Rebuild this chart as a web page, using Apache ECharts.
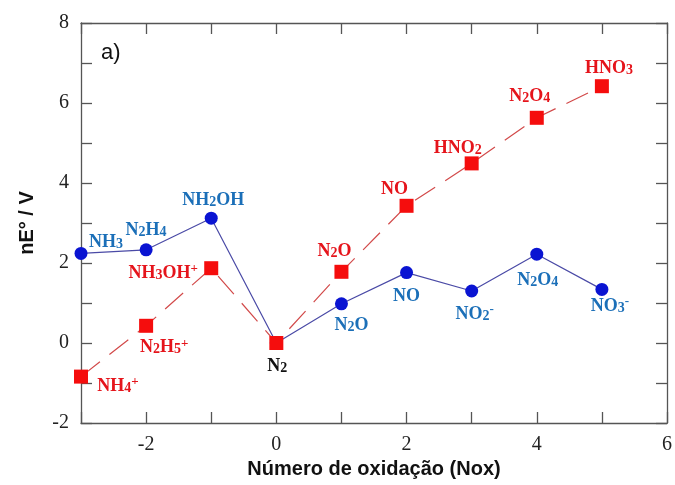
<!DOCTYPE html>
<html><head><meta charset="utf-8">
<script src="https://cdn.jsdelivr.net/npm/echarts@6/dist/echarts.min.js"></script>
<style>html,body{margin:0;padding:0;background:#fff}#c{width:675px;height:485px}</style>
</head><body><div id="c"></div>
<script>
// Data
const nox = [-3, -2, -1, 0, 1, 2, 3, 4, 5];
const blueValues = [2.24, 2.33, 3.12, 0, 0.98, 1.76, 1.30, 2.22, 1.34];
const redValues = [-0.84, 0.43, 1.87, 0, 1.78, 3.43, 4.49, 5.63, 6.42];
const blueLabels = ['{m|NH}{s|3}', '{m|N}{s|2}{m|H}{s|4}', '{m|NH}{s|2}{m|OH}', '', '{m|N}{s|2}{m|O}', '{m|NO}', '{m|NO}{s|2}{p|-}', '{m|N}{s|2}{m|O}{s|4}', '{m|NO}{s|3}{p|-}'];
const redLabels = ['{m|NH}{s|4}{p|+}', '{m|N}{s|2}{m|H}{s|5}{p|+}', '{m|NH}{s|3}{m|OH}{p|+}', '{m|N}{s|2}', '{m|N}{s|2}{m|O}', '{m|NO}', '{m|HNO}{s|2}', '{m|N}{s|2}{m|O}{s|4}', '{m|HNO}{s|3}'];
const yTicks = [-2, 0, 2, 4, 6, 8];
const xTicks = [-2, 0, 2, 4, 6];

// Label placement (pixel offsets from each marker)
const blueOffsets = [[25, -12], [0, -20], [2, -19], [0, 0], [10, 21], [0, 23], [3, 22], [1, 25], [8, 16]];
const redOffsets = [[37, 9], [18, 21], [-48, 4], [1, 22], [-7, -21], [-12, -17], [-14, -16], [-7, -22], [7, -19]];

const BLUE_TXT = '#1b6fb8', RED_TXT = '#e5141b';
function rich(color) {
  return {
    m: {fontFamily: 'Liberation Serif', fontWeight: 'bold', fontSize: 18, color: color, lineHeight: 20, verticalAlign: 'bottom'},
    s: {fontFamily: 'Liberation Serif', fontWeight: 'bold', fontSize: 14, color: color, lineHeight: 17, verticalAlign: 'bottom'},
    p: {fontFamily: 'Liberation Serif', fontWeight: 'bold', fontSize: 13, color: color, lineHeight: 13, verticalAlign: 'top'}
  };
}
function build(values, labels, offsets, color) {
  return nox.map((x, i) => {
    const lbl = labels[i];
    const c = (color === RED_TXT && x === 0) ? '#111' : color;
    return {
      value: [x, values[i]],
      label: {show: lbl !== '', formatter: lbl, position: 'inside', offset: offsets[i], align: 'center', verticalAlign: 'middle', rich: rich(c)}
    };
  });
}
const labFmt = (arr) => (v) => arr.indexOf(v) >= 0 ? String(v) : '';
const axisLine = {show: true, onZero: false, lineStyle: {color: '#555', width: 1.3}};
const tick = {show: true, inside: true, length: 11, lineStyle: {color: '#555', width: 1.3}};

const chart = echarts.init(document.getElementById('c'), null, {renderer: 'canvas'});
chart.setOption({
  animation: false,
  title: {text: 'a)', left: 96, top: 37, textStyle: {fontFamily: 'Liberation Sans', fontWeight: 'normal', fontSize: 22, color: '#111'}},
  grid: {left: 81, right: 8, top: 23, bottom: 62},
  xAxis: [
    {type: 'value', min: -3, max: 6, interval: 1, position: 'bottom',
     name: 'Número de oxidação (Nox)', nameLocation: 'middle', nameGap: 34,
     nameTextStyle: {fontFamily: 'Liberation Sans', fontWeight: 'bold', fontSize: 20, color: '#111'},
     axisLine: axisLine, axisTick: tick, splitLine: {show: false},
     axisLabel: {formatter: labFmt(xTicks), fontFamily: 'Liberation Serif', fontSize: 20, color: '#222', margin: 12}},
    {type: 'value', min: -3, max: 6, interval: 1, position: 'top',
     axisLine: axisLine, axisTick: tick, splitLine: {show: false}, axisLabel: {show: false}}
  ],
  yAxis: [
    {type: 'value', min: -2, max: 8, interval: 1, position: 'left',
     name: 'nE° / V', nameLocation: 'middle', nameGap: 44, nameRotate: 90,
     nameTextStyle: {fontFamily: 'Liberation Sans', fontWeight: 'bold', fontSize: 20, color: '#111'},
     axisLine: axisLine, axisTick: tick, splitLine: {show: false},
     axisLabel: {formatter: labFmt(yTicks), fontFamily: 'Liberation Serif', fontSize: 20, color: '#222', margin: 12}},
    {type: 'value', min: -2, max: 8, interval: 1, position: 'right',
     axisLine: axisLine, axisTick: tick, splitLine: {show: false}, axisLabel: {show: false}}
  ],
  series: [
    {type: 'line', name: 'blue', xAxisIndex: 0, yAxisIndex: 0,
     data: build(blueValues, blueLabels, blueOffsets, BLUE_TXT),
     symbol: 'circle', symbolSize: 13, itemStyle: {color: '#0a14d2'},
     lineStyle: {color: '#4a4aa6', width: 1.2}, z: 2},
    {type: 'line', name: 'red', xAxisIndex: 0, yAxisIndex: 0,
     data: build(redValues, redLabels, redOffsets, RED_TXT),
     symbol: 'rect', symbolSize: 14, itemStyle: {color: '#f50d0d'},
     lineStyle: {color: '#d24a4a', width: 1.2, type: [24, 12]}, z: 3}
  ]
});
</script></body></html>
